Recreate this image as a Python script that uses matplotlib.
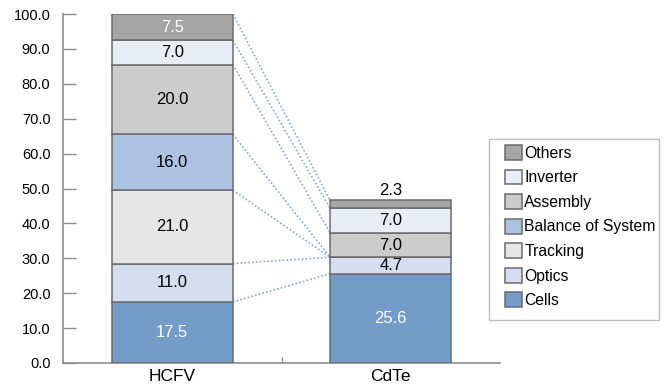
import numpy as np
import matplotlib.pyplot as plt
from matplotlib.patches import Rectangle

plt.rcParams['font.family'] = ['Liberation Sans', 'DejaVu Sans']

groups = ["HCFV", "CdTe"]
parts = ["Cells", "Optics", "Tracking", "Balance of System", "Assembly", "Inverter", "Others"]
hcfv = [17.5, 11.0, 21.0, 16.0, 20.0, 7.0, 7.5]
cdte = [25.6, 4.7, 0.0, 0.0, 7.0, 7.0, 2.3]
colors = ["#739cc9", "#d5deee", "#e6e6e6", "#abc2e0", "#cccccc", "#e9edf6", "#a5a5a5"]
white_text = ["Cells", "Others"]

W, H = 669, 387
fig = plt.figure(figsize=(W / 100, H / 100), dpi=100)
ax = fig.add_axes([63 / W, 1 - 363 / H, 437 / W, 349 / H])

w = 0.555
x = np.arange(len(groups))
vals = np.array([hcfv, cdte])
bottoms = np.zeros(len(groups))
handles = []
for i, name in enumerate(parts):
    b = ax.bar(x, vals[:, i], w, bottom=bottoms, color=colors[i],
               edgecolor="#6b6b6b", linewidth=1.1, label=name, zorder=3)
    handles.append(b)
    for j in range(len(groups)):
        v = vals[j, i]
        if v <= 0:
            continue
        if v < 3:
            # too thin for the label, put it on top
            ax.text(x[j], bottoms[j] + v + 0.6, "%.1f" % v, ha="center", va="bottom",
                    fontsize=12, color="black", zorder=5)
        else:
            tc = "white" if name in white_text else "black"
            ax.text(x[j], bottoms[j] + v / 2, "%.1f" % v, ha="center", va="center",
                    fontsize=12, color=tc, zorder=5)
    bottoms = bottoms + vals[:, i]

# dotted connectors between the cumulative levels of both bars
cum_h = np.cumsum(hcfv)
cum_c = np.cumsum(cdte)
for a, b in zip(cum_h, cum_c):
    ax.plot([x[0] + w / 2, x[1] - w / 2], [a, b], linestyle=(0, (1, 1.3)),
            color="#86a9d3", linewidth=1.2, zorder=2)

ax.set_xlim(-0.5, 1.5)
ax.set_ylim(0, 100)
ax.set_yticks(np.arange(0, 101, 10))
ax.set_yticklabels(["%.1f" % t for t in np.arange(0, 101, 10)], fontsize=10.5)
ax.tick_params(axis="y", direction="in", length=9, width=1, color="#8c8c8c", pad=9)
ax.set_xticks([0.5])
ax.set_xticklabels([""])
ax.tick_params(axis="x", direction="in", length=4.5, width=1, color="#8c8c8c")
ax.set_xticks(x, minor=True)
ax.set_xticklabels(groups, minor=True, fontsize=12.5)
ax.tick_params(axis="x", which="minor", length=0, pad=4)

for s in ["top", "right"]:
    ax.spines[s].set_visible(False)
for s in ["left", "bottom"]:
    ax.spines[s].set_color("#8c8c8c")
    ax.spines[s].set_linewidth(1.2)

# legend box drawn separately so the inner padding can be wider
fig.patches.append(Rectangle((489 / W, 1 - 320 / H), 170 / W, 181 / H,
                             transform=fig.transFigure, facecolor="white",
                             edgecolor="#bdbdbd", linewidth=1.0, zorder=0))
leg = fig.legend(handles[::-1], parts[::-1], loc="upper left",
                 bbox_to_anchor=(505 / W, 1 - 145 / H), fontsize=11.3,
                 frameon=False, handlelength=1.08, handleheight=1.08,
                 handletextpad=0.15, labelspacing=0.56, borderpad=0,
                 borderaxespad=0)

fig.savefig("out.png", dpi=100)
